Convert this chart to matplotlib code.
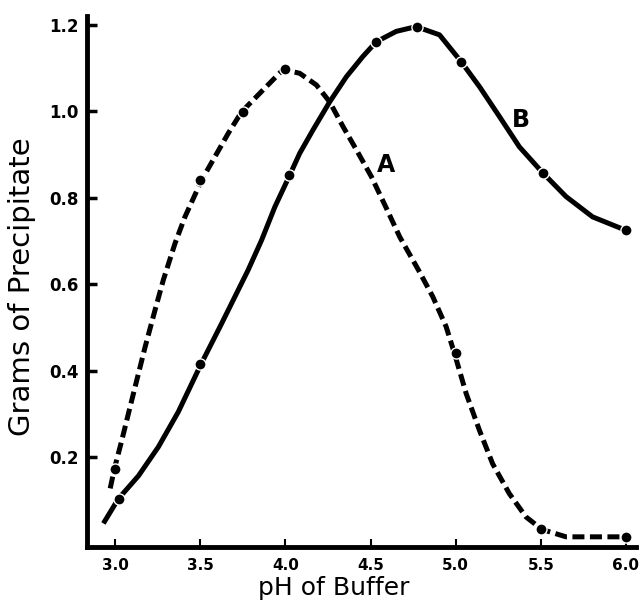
import matplotlib
matplotlib.use("Agg")
from matplotlib import pyplot as plt

# measured points (dots)
a_ph = [3.0, 3.5, 3.75, 4.0, 5.0, 5.5, 6.0]
a_g = [0.174, 0.841, 0.999, 1.097, 0.44, 0.033, 0.016]
b_ph = [3.02, 3.5, 4.02, 4.53, 4.77, 5.03, 5.51, 6.0]
b_g = [0.104, 0.415, 0.853, 1.161, 1.196, 1.115, 0.858, 0.725]

# curves
a_curve_x = [2.971, 2.996, 3.039, 3.078, 3.127, 3.176, 3.234, 3.283, 3.352, 3.41, 3.508,
             3.586, 3.664, 3.743, 3.86, 3.987, 4.084, 4.182, 4.26, 4.338, 4.417, 4.505,
             4.593, 4.671, 4.783, 4.866, 4.944, 4.993, 5.062, 5.14, 5.217, 5.315, 5.413,
             5.507, 5.648, 5.98]
a_curve_y = [0.128, 0.174, 0.239, 0.301, 0.378, 0.455, 0.54, 0.61, 0.695, 0.756, 0.841,
             0.895, 0.949, 0.999, 1.046, 1.097, 1.088, 1.061, 1.022, 0.965, 0.911, 0.849,
             0.776, 0.71, 0.632, 0.571, 0.502, 0.44, 0.347, 0.262, 0.185, 0.116, 0.062,
             0.033, 0.016, 0.016]
b_curve_x = [2.931, 3.019, 3.137, 3.254, 3.371, 3.504, 3.625, 3.703, 3.781, 3.86, 3.938,
             4.026, 4.084, 4.162, 4.26, 4.358, 4.455, 4.534, 4.651, 4.768, 4.905, 5.032,
             5.14, 5.257, 5.374, 5.511, 5.648, 5.804, 5.999]
b_curve_y = [0.047, 0.104, 0.157, 0.224, 0.305, 0.415, 0.509, 0.571, 0.633, 0.702, 0.779,
             0.853, 0.903, 0.957, 1.022, 1.08, 1.127, 1.161, 1.185, 1.196, 1.177, 1.115,
             1.057, 0.988, 0.918, 0.858, 0.803, 0.756, 0.725]

xticks = [3.0, 3.5, 4.0, 4.5, 5.0, 5.5, 6.0]
yticks = [0.2, 0.4, 0.6, 0.8, 1.0, 1.2]

plt.rcParams['font.family'] = ['DejaVu Sans']

fig = plt.figure(figsize=(6.4, 6.08), dpi=100)
ax = fig.add_axes([0.136, 0.100, 0.858, 0.874])

ax.plot(a_curve_x, a_curve_y, color='black', lw=3.6, dashes=(2.4, 1.1),
        dash_capstyle='butt', dash_joinstyle='round')
ax.plot(b_curve_x, b_curve_y, color='black', lw=3.6, solid_capstyle='butt',
        solid_joinstyle='round')
ax.plot(a_ph, a_g, 'o', color='black', ms=8, mec='white', mew=1.0)
ax.plot(b_ph, b_g, 'o', color='black', ms=8, mec='white', mew=1.0)

ax.text(4.593, 0.876, 'A', fontsize=17, fontweight='bold', ha='center', va='center')
ax.text(5.383, 0.98, 'B', fontsize=17, fontweight='bold', ha='center', va='center')

ax.set_xlim(2.835, 6.06)
ax.set_ylim(-0.008, 1.221)
ax.set_xticks(xticks)
ax.set_yticks(yticks)
ax.set_xticklabels(['%.1f' % v for v in xticks], fontsize=11, fontweight='bold')
ax.set_yticklabels(['%.1f' % v for v in yticks], fontsize=12, fontweight='bold')
ax.tick_params(axis='x', direction='in', length=6, width=1.5, pad=8)
ax.tick_params(axis='y', direction='in', length=7, width=2.5, pad=6)

for s in ['top', 'right']:
    ax.spines[s].set_visible(False)
for s in ['left', 'bottom']:
    ax.spines[s].set_linewidth(3.5)

ax.set_xlabel('pH of Buffer', fontsize=18)
ax.set_ylabel('Grams of Precipitate', fontsize=21)
ax.xaxis.set_label_coords(0.45, -0.055)
ax.yaxis.set_label_coords(-0.093, 0.49)

fig.savefig('out.png', dpi=100)
